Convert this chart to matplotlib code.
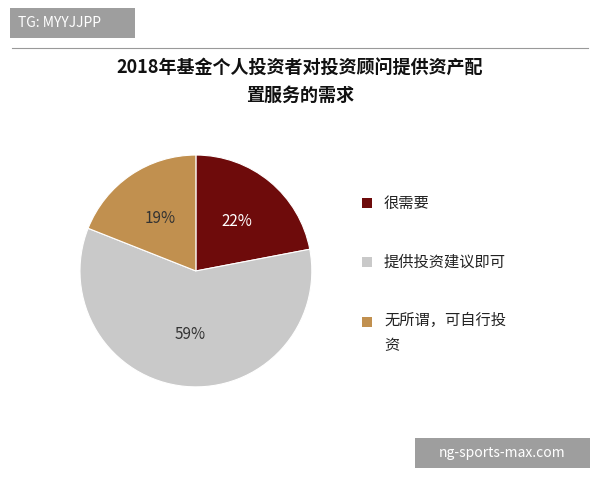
import matplotlib
matplotlib.use("Agg")
import matplotlib.pyplot as plt
from matplotlib.patches import Rectangle
import numpy as np

plt.rcParams['font.family'] = ['Noto Sans CJK SC', 'DejaVu Sans']

labels = ['很需要', '提供投资建议即可', '无所谓，可自行投\n资']
values = [22, 59, 19]
colors = ['#6E0B0B', '#C9C9C9', '#C1904F']
title = '2018年基金个人投资者对投资顾问提供资产配\n置服务的需求'

fig = plt.figure(figsize=(6, 4.8), dpi=100)
fig.patch.set_facecolor('white')

ax = fig.add_axes([0.133, 0.194, 0.387, 0.483])
wedges, texts = ax.pie(values, colors=colors, startangle=90, counterclock=False,
                       wedgeprops=dict(linewidth=0.8, edgecolor='white'))
ax.set_xlim(-1, 1)
ax.set_ylim(-1, 1)
ax.set_aspect('equal')
for w, v in zip(wedges, values):
    ang = np.deg2rad((w.theta1 + w.theta2) / 2)
    r = 0.55
    ax.text(r * np.cos(ang), r * np.sin(ang), f'{v}%', ha='center', va='center',
            fontsize=11, color='white' if v == 22 else '#333333')

fig.text(0.5, 0.83, title, ha='center', va='center', fontsize=13, fontweight='bold',
         color='#111111', linespacing=1.5)

ys = [480 - 203, 480 - 262, 480 - 322]
for lab, c, y in zip(labels, colors, ys):
    fig.patches.append(Rectangle((362 / 600, (y - 5) / 480), 10 / 600, 10 / 480,
                                 transform=fig.transFigure, facecolor=c, edgecolor='none'))
    if '\n' in lab:
        fig.text(384 / 600, (y + 10) / 480, lab, ha='left', va='top', fontsize=11,
                 color='#222222', linespacing=1.6)
    else:
        fig.text(384 / 600, y / 480, lab, ha='left', va='center', fontsize=11, color='#222222')

# watermarks
fig.patches.append(Rectangle((10 / 600, 1 - 38 / 480), 125 / 600, 30 / 480,
                             transform=fig.transFigure, facecolor='#9E9E9E', edgecolor='none'))
fig.text(18 / 600, 1 - 23 / 480, 'TG: MYYJJPP', color='white', fontsize=10, va='center')
fig.lines.append(plt.Line2D([0.02, 0.98], [1 - 48 / 480] * 2, transform=fig.transFigure,
                            color='#999999', linewidth=0.8))
fig.patches.append(Rectangle((415 / 600, 1 - 468 / 480), 175 / 600, 30 / 480,
                             transform=fig.transFigure, facecolor='#9E9E9E', edgecolor='none'))
fig.text(502 / 600, 1 - 453 / 480, 'ng-sports-max.com', color='white', fontsize=10,
         va='center', ha='center')

fig.savefig('out.png', dpi=100)
